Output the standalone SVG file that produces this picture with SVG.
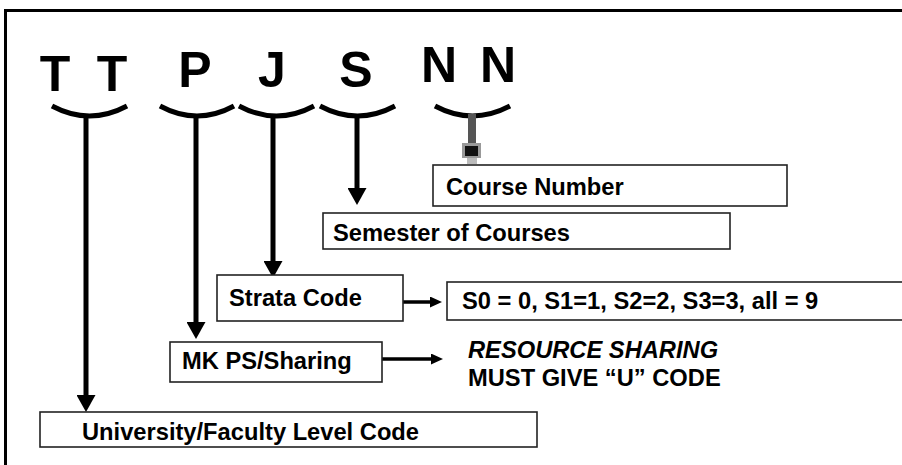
<svg xmlns="http://www.w3.org/2000/svg" width="902" height="465" viewBox="0 0 902 465">
<style>
.big{font-family:"Liberation Sans",Arial,sans-serif;font-weight:bold;font-size:50px;fill:#000;text-anchor:middle}
.lbl{font-family:"Liberation Sans",Arial,sans-serif;font-weight:bold;font-size:23.7px;fill:#000}
.box{fill:#fff;stroke:#222;stroke-width:1.6}
.arc{fill:none;stroke:#000;stroke-width:5}
.down{stroke:#000;stroke-width:5;fill:none}
.right{stroke:#000;stroke-width:3.5;fill:none}
</style>
<defs>
<marker id="hd" markerUnits="userSpaceOnUse" markerWidth="17" markerHeight="19" refX="7" refY="9.5" orient="auto"><path d="M0,0 L17,9.5 L0,19 z" fill="#000"/></marker>
<marker id="hs" markerUnits="userSpaceOnUse" markerWidth="12" markerHeight="11" refX="4" refY="5.5" orient="auto"><path d="M0,0 L12,5.5 L0,11 z" fill="#000"/></marker>
</defs>
<rect x="0" y="0" width="902" height="465" fill="#fff"/>
<path d="M5.5,480 L5.5,10.5 L920,10.5" fill="none" stroke="#000" stroke-width="3"/>
<g id="code-letters">
<text class="big" x="55" y="91">T</text>
<text class="big" x="112" y="91">T</text>
<text class="big" x="195" y="87">P</text>
<text class="big" x="272" y="87">J</text>
<text class="big" x="356" y="87">S</text>
<text class="big" x="439" y="82">N</text>
<text class="big" x="498" y="82">N</text>
</g>
<g id="braces">
<path class="arc" d="M52,106 Q89.5,126 127,106"/>
<path class="arc" d="M160,106 Q197,126 234,106"/>
<path class="arc" d="M239,106 Q276.5,126 314,106"/>
<path class="arc" d="M320,106 Q357.5,126 395,106"/>
<path class="arc" d="M435,106 Q472.5,126 510,106"/>
</g>
<g id="connectors">
<line class="down" x1="86" y1="114" x2="86" y2="402" marker-end="url(#hd)"/>
<line class="down" x1="196" y1="114" x2="196" y2="329" marker-end="url(#hd)"/>
<line class="down" x1="273" y1="114" x2="273" y2="268" marker-end="url(#hd)"/>
<line class="down" x1="357" y1="114" x2="357" y2="195" marker-end="url(#hd)"/>
<rect x="468" y="114" width="8" height="30" fill="#555"/>
<rect x="462" y="143" width="19" height="15" fill="#999"/>
<rect x="465" y="146" width="13" height="10" fill="#111"/>
<rect x="467" y="158" width="10" height="6" fill="#bbb"/>
<line class="right" x1="403" y1="302" x2="434" y2="302" marker-end="url(#hs)"/>
<line class="right" x1="382" y1="359" x2="435" y2="359" marker-end="url(#hs)"/>
</g>
<g id="course-number">
<rect class="box" x="433" y="165" width="354" height="41"/>
<text class="lbl" x="446" y="195">Course Number</text>
</g>
<g id="semester">
<rect class="box" x="323" y="213" width="407" height="36"/>
<text class="lbl" x="333" y="241">Semester of Courses</text>
</g>
<g id="strata">
<rect class="box" x="217" y="275" width="186" height="46"/>
<text class="lbl" x="229" y="306">Strata Code</text>
</g>
<g id="strata-values">
<rect class="box" x="447" y="282" width="470" height="38"/>
<text class="lbl" x="462" y="309">S0 = 0, S1=1, S2=2, S3=3, all = 9</text>
</g>
<g id="mk">
<rect class="box" x="170" y="342" width="212" height="40"/>
<text class="lbl" x="182" y="369">MK PS/Sharing</text>
</g>
<g id="resource-note">
<text class="lbl" x="468" y="358" font-style="italic">RESOURCE SHARING</text>
<text class="lbl" x="468" y="386">MUST GIVE “U” CODE</text>
</g>
<g id="university">
<rect class="box" x="40" y="412" width="497" height="35"/>
<text class="lbl" x="82" y="440">University/Faculty Level Code</text>
</g>
</svg>
